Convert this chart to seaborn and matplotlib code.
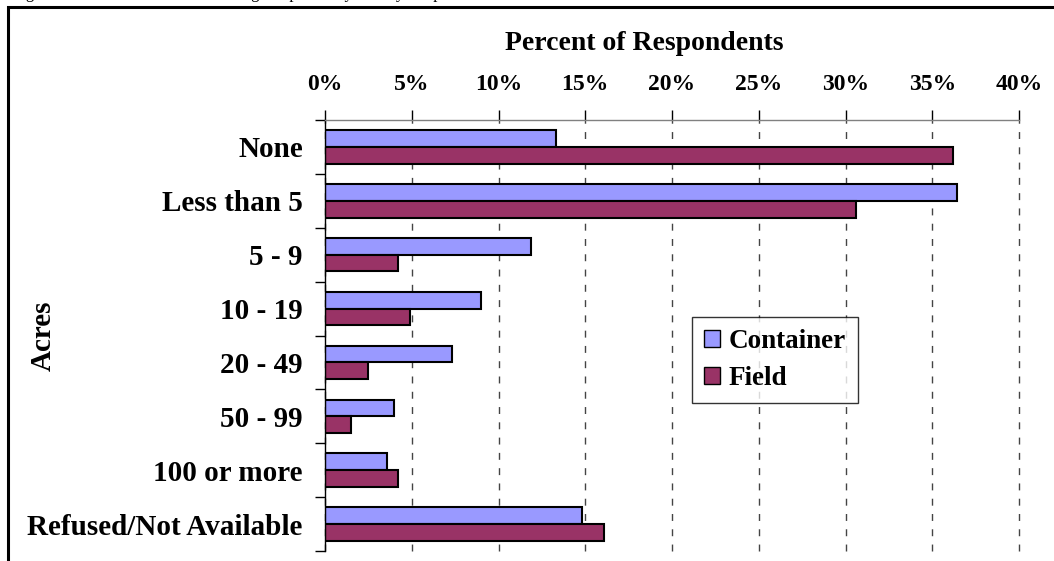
"""
Container and field acreage reported by survey respondents
"""
import matplotlib
matplotlib.use('Agg')
import matplotlib.pyplot as plt
from matplotlib.patches import Rectangle
from matplotlib.ticker import FuncFormatter, FixedLocator
import seaborn as sns
import pandas as pd

categories = ['None', 'Less than 5', '5 - 9', '10 - 19', '20 - 49', '50 - 99',
              '100 or more', 'Refused/Not Available']
container = [13.3, 36.4, 11.9, 9.0, 7.3, 4.0, 3.6, 14.8]
field = [36.2, 30.6, 4.2, 4.9, 2.5, 1.5, 4.2, 16.1]
series = ['Container', 'Field']
colors = ['#9999FF', '#993366']
x_ticks = [0, 5, 10, 15, 20, 25, 30, 35, 40]

df = pd.DataFrame({
    'Acres': categories * 2,
    'Percent': container + field,
    'Series': ['Container'] * len(categories) + ['Field'] * len(categories),
})

sns.set_style('white')
plt.rcParams['font.family'] = ['Liberation Serif', 'DejaVu Serif']
plt.rcParams['font.weight'] = 'bold'
plt.rcParams['text.color'] = 'black'
plt.rcParams['xtick.color'] = 'black'
plt.rcParams['ytick.color'] = 'black'
plt.rcParams['axes.labelcolor'] = 'black'

W, H = 1054, 561
fig = plt.figure(figsize=(W / 100, H / 100), dpi=100)
ax = fig.add_axes([325 / W, 1 - 551 / H, (1019 - 325) / W, (551 - 120) / H])

sns.barplot(data=df, x='Percent', y='Acres', hue='Series', order=categories,
            hue_order=series, palette=colors, orient='h', width=0.62,
            edgecolor='black', linewidth=1.5, saturation=1, ax=ax)

ax.set_xlim(x_ticks[0], x_ticks[-1])
ax.set_ylim(len(categories) - 0.5, -0.5)

# dashed vertical gridlines
ax.xaxis.set_major_locator(FixedLocator(x_ticks))
ax.grid(axis='x', color='#444444', linestyle=(0, (5, 6)), linewidth=1)
ax.set_axisbelow(True)
for gl in ax.get_xgridlines():
    gl.set_clip_on(False)

# x axis on top
ax.xaxis.tick_top()
ax.xaxis.set_major_formatter(FuncFormatter(lambda v, p: f'{v:.0f}%'))
ax.tick_params(axis='x', which='major', top=True, bottom=False, direction='out',
               length=7, width=1, color='black', labelsize=17, pad=11)
ax.set_xlabel('')
ax.set_ylabel('')

# category boundary ticks on y axis
ax.yaxis.set_minor_locator(FixedLocator([i - 0.5 for i in range(len(categories) + 1)]))
ax.tick_params(axis='y', which='major', left=True, length=0, labelsize=21, pad=16)
ax.tick_params(axis='y', which='minor', left=True, length=7, width=1, color='black')
for lab in ax.get_yticklabels() + ax.get_xticklabels():
    lab.set_fontweight('bold')

for side in ['right', 'bottom']:
    ax.spines[side].set_visible(False)
ax.spines['top'].set_color('#808080')
ax.spines['top'].set_linewidth(1)
ax.spines['left'].set_color('black')
ax.spines['left'].set_linewidth(1)

fig.text(644 / W, 1 - 44 / H, 'Percent of Respondents', ha='center', va='center',
         fontsize=20, fontweight='bold')
fig.text(43 / W, 1 - 336 / H, 'Acres', ha='center', va='center', rotation=90,
         fontsize=21, fontweight='bold')

# caption cut off at the top of the picture, as in the source
fig.text(12 / W, 1 + 2 / H, 'Figure 1. Container and Field Acreage Reported by Survey Respondents.',
         ha='left', va='baseline', fontsize=12, fontweight='normal')

leg = ax.legend(loc='center', bbox_to_anchor=(775 / W, 1 - 360 / H),
                bbox_transform=fig.transFigure, frameon=True, fancybox=False,
                edgecolor='black', handlelength=0.6, handleheight=0.6,
                handletextpad=0.3, labelspacing=0.45, borderpad=0.45,
                prop={'size': 19.5, 'weight': 'bold'})
leg.get_frame().set_linewidth(1)
for h in leg.legend_handles:
    h.set_edgecolor('black')
    h.set_linewidth(1)

# outer frame
fig.patches.append(Rectangle((8 / W, -0.05), 1.2, 1 - 7 / H + 0.05, transform=fig.transFigure,
                             fill=False, edgecolor='black', linewidth=2.2))

fig.savefig('out.png', dpi=100)
plt.close(fig)
